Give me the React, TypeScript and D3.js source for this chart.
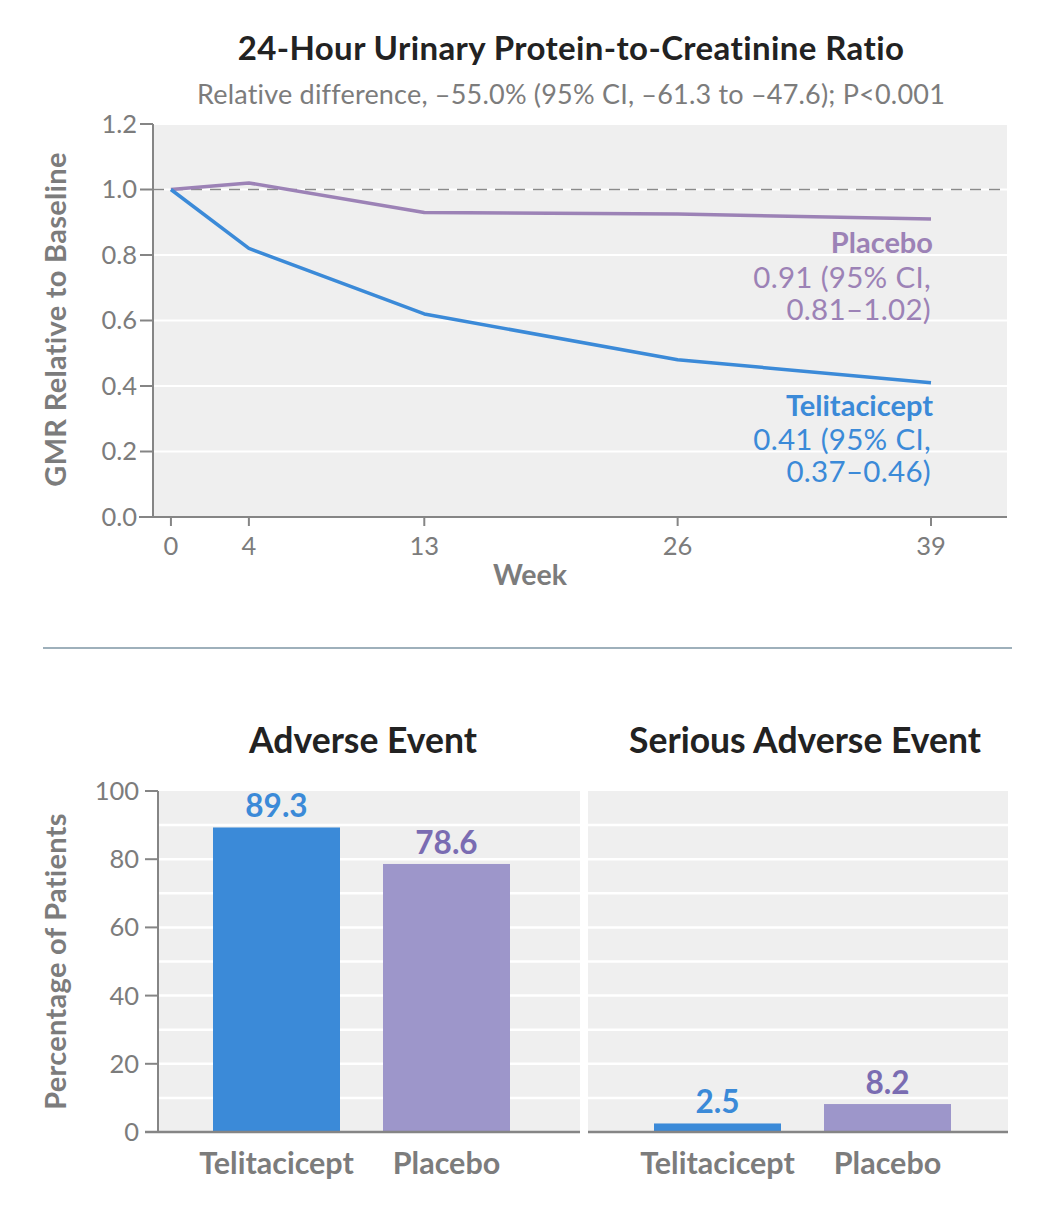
import React from "react";
import * as d3 from "d3";

// weekly GMR series
const weeks = [0, 4, 13, 26, 39];
const telitaciceptGmr = [1.0, 0.82, 0.62, 0.48, 0.41];
const placeboGmr = [1.0, 1.02, 0.93, 0.925, 0.91];
const gmrTicks = [0, 0.2, 0.4, 0.6, 0.8, 1.0, 1.2];

// adverse event rates (%)
const groups = ["Telitacicept", "Placebo"];
const adverseEvent = [89.3, 78.6];
const seriousAdverseEvent = [2.5, 8.2];
const pctTicks = [0, 20, 40, 60, 80, 100];
const pctGrid = [10, 20, 30, 40, 50, 60, 70, 80, 90];

const FONT = "Lato, 'Open Sans', sans-serif";
const BG = "#efefef";
const AXIS = "#858585";
const TICK_TEXT = "#7c7c7c";
const BLUE = "#3b8ad8";
const PURPLE_LINE = "#9c82b6";
const BAR_PURPLE = "#9d96ca";
const LABEL_PURPLE = "#7a6cb2";

const W = 1060;
const H = 1212;

// top panel geometry
const top = { left: 153, right: 1007, top: 124, bottom: 517 };

const LineChart = () => {
  const x = d3.scaleLinear().domain([-0.92, 42.9]).range([top.left, top.right]);
  const y = d3.scaleLinear().domain([0, 1.2]).range([top.bottom, top.top]);
  const line = d3
    .line<number>()
    .x((_, i) => x(weeks[i]))
    .y((d) => y(d));
  const endX = x(39);

  return (
    <g fontFamily={FONT}>
      <text x={571} y={60} textAnchor="middle" fontSize={33} letterSpacing={0.4} fontWeight={700} fill="#222">
        24-Hour Urinary Protein-to-Creatinine Ratio
      </text>
      <text x={571} y={104} textAnchor="middle" fontSize={27} letterSpacing={0.2} fill={TICK_TEXT}>
        Relative difference, –55.0% (95% CI, –61.3 to –47.6); P&lt;0.001
      </text>

      <rect x={top.left} y={top.top} width={top.right - top.left} height={top.bottom - top.top} fill={BG} />
      {gmrTicks.slice(1).map((t) => (
        <line key={t} x1={top.left} x2={top.right} y1={y(t)} y2={y(t)} stroke="#fff" strokeWidth={2} />
      ))}
      <line x1={top.left} x2={top.right} y1={y(1)} y2={y(1)} stroke="#8a8a8a" strokeWidth={1.6} strokeDasharray="11,8" />

      <path d={line(placeboGmr) || ""} fill="none" stroke={PURPLE_LINE} strokeWidth={3.5} strokeLinejoin="round" />
      <path d={line(telitaciceptGmr) || ""} fill="none" stroke={BLUE} strokeWidth={3.5} strokeLinejoin="round" />

      {/* axes */}
      <line x1={top.left} x2={top.left} y1={top.top} y2={top.bottom} stroke={AXIS} strokeWidth={2} />
      <line x1={top.left - 14} x2={top.right} y1={top.bottom} y2={top.bottom} stroke={AXIS} strokeWidth={2} />
      {gmrTicks.map((t) => (
        <g key={t}>
          <line x1={top.left - 13} x2={top.left} y1={y(t)} y2={y(t)} stroke={AXIS} strokeWidth={2} />
          <text x={top.left - 16} y={y(t)} dy="0.35em" textAnchor="end" fontSize={25.5} fill={TICK_TEXT}>
            {t.toFixed(1)}
          </text>
        </g>
      ))}
      {weeks.map((w) => (
        <g key={w}>
          <line x1={x(w)} x2={x(w)} y1={top.bottom} y2={top.bottom + 9} stroke={AXIS} strokeWidth={2} />
          <text x={x(w)} y={top.bottom + 38} textAnchor="middle" fontSize={25.5} fill={TICK_TEXT}>
            {w}
          </text>
        </g>
      ))}
      <text x={530} y={585} textAnchor="middle" fontSize={28.5} fontWeight={700} fill={TICK_TEXT}>
        Week
      </text>
      <text
        transform={`translate(66,${(top.top + top.bottom) / 2 - 1}) rotate(-90)`}
        textAnchor="middle"
        fontSize={29}
        letterSpacing={0.3}
        fontWeight={700}
        fill={TICK_TEXT}
      >
        GMR Relative to Baseline
      </text>

      {/* end labels */}
      <g textAnchor="end">
        <text x={endX + 2} y={253} fontSize={29} fontWeight={700} fill={PURPLE_LINE}>Placebo</text>
        <text x={endX} y={288} fontSize={29.5} letterSpacing={0.3} fill={PURPLE_LINE}>0.91 (95% CI,</text>
        <text x={endX} y={320} fontSize={29.5} letterSpacing={0.3} fill={PURPLE_LINE}>0.81–1.02)</text>
        <text x={endX + 2} y={416} fontSize={29} fontWeight={700} fill={BLUE}>Telitacicept</text>
        <text x={endX} y={450} fontSize={29.5} letterSpacing={0.3} fill={BLUE}>0.41 (95% CI,</text>
        <text x={endX} y={482} fontSize={29.5} letterSpacing={0.3} fill={BLUE}>0.37–0.46)</text>
      </g>
    </g>
  );
};

const barTop = 791;
const barBottom = 1132;
const yPct = d3.scaleLinear().domain([0, 100]).range([barBottom, barTop]);

const BarPanel = ({ x0, x1, bandStart, title, titleX, values }: { x0: number; x1: number; bandStart: number; title: string; titleX: number; values: number[] }) => {
  const xb = d3.scaleBand().domain(groups).range([bandStart, bandStart + 297]).paddingInner(0.253).paddingOuter(0);
  const colors = [BLUE, BAR_PURPLE];
  const labelColors = [BLUE, LABEL_PURPLE];
  return (
    <g fontFamily={FONT}>
      <text x={titleX} y={753} textAnchor="middle" fontSize={35.5} fontWeight={700} fill="#222">
        {title}
      </text>
      <rect x={x0} y={barTop} width={x1 - x0} height={barBottom - barTop} fill={BG} />
      {pctGrid.map((t) => (
        <line key={t} x1={x0} x2={x1} y1={yPct(t)} y2={yPct(t)} stroke="#fff" strokeWidth={2.5} />
      ))}
      {values.map((v, i) => (
        <g key={groups[i]}>
          <rect x={xb(groups[i])} y={yPct(v)} width={xb.bandwidth()} height={barBottom - yPct(v)} fill={colors[i]} />
          <text
            x={(xb(groups[i]) || 0) + xb.bandwidth() / 2}
            y={yPct(v) - 10}
            textAnchor="middle"
            fontSize={31.5}
            fontWeight={700}
            fill={labelColors[i]}
          >
            {v.toFixed(1)}
          </text>
          <text
            x={(xb(groups[i]) || 0) + xb.bandwidth() / 2}
            y={1174}
            textAnchor="middle"
            fontSize={30.5}
            fontWeight={700}
            fill={TICK_TEXT}
          >
            {groups[i]}
          </text>
        </g>
      ))}
      <line x1={x0} x2={x1} y1={barBottom} y2={barBottom} stroke={AXIS} strokeWidth={2.5} />
    </g>
  );
};

const BarCharts = () => (
  <g>
    <BarPanel x0={158} x1={580} bandStart={213} title="Adverse Event" titleX={363} values={adverseEvent} />
    <BarPanel x0={588} x1={1008} bandStart={654} title="Serious Adverse Event" titleX={805} values={seriousAdverseEvent} />
    <g fontFamily={FONT}>
      <line x1={158} x2={158} y1={barTop} y2={barBottom} stroke={AXIS} strokeWidth={2} />
      <line x1={145} x2={158} y1={barBottom} y2={barBottom} stroke={AXIS} strokeWidth={2.5} />
      {pctTicks.map((t) => (
        <g key={t}>
          <line x1={145} x2={158} y1={yPct(t)} y2={yPct(t)} stroke={AXIS} strokeWidth={2} />
          <text x={139} y={yPct(t)} dy="0.35em" textAnchor="end" fontSize={25.5} fill={TICK_TEXT}>
            {t}
          </text>
        </g>
      ))}
      <text
        transform={`translate(66,${(barTop + barBottom) / 2}) rotate(-90)`}
        textAnchor="middle"
        fontSize={29}
        letterSpacing={0.3}
        fontWeight={700}
        fill={TICK_TEXT}
      >
        Percentage of Patients
      </text>
    </g>
  </g>
);

export default function App() {
  return (
    <svg width={W} height={H} style={{ position: "absolute", left: 0, top: 0, background: "#fff" }}>
      <LineChart />
      <line x1={43} x2={1012} y1={648} y2={648} stroke="#9eb0bb" strokeWidth={2} />
      <BarCharts />
    </svg>
  );
}
